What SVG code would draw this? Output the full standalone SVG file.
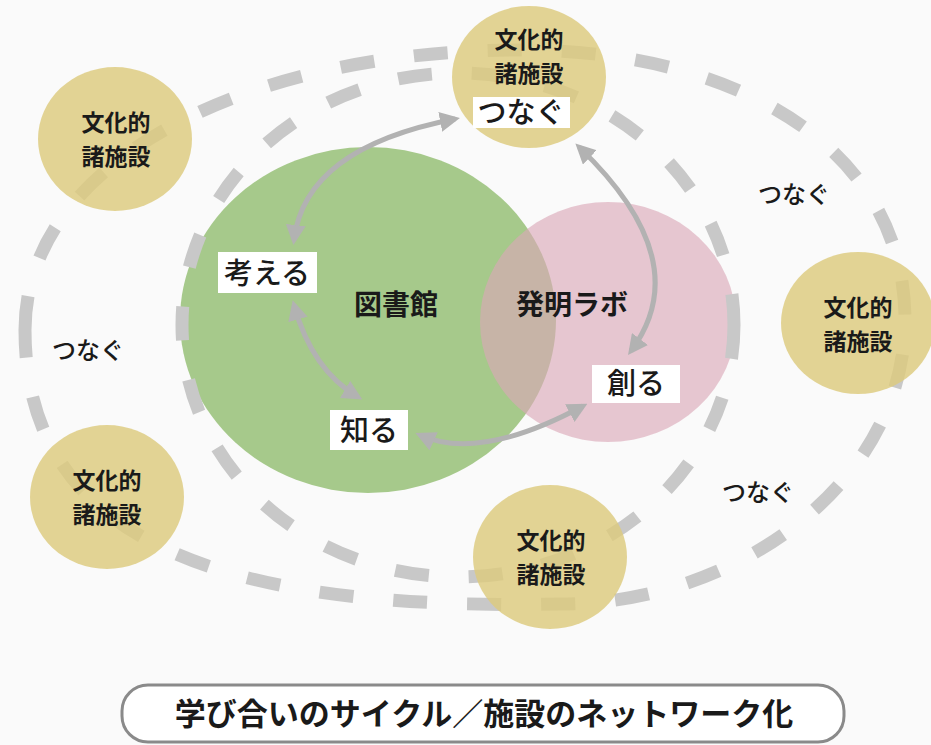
<svg xmlns="http://www.w3.org/2000/svg" width="931" height="745" viewBox="0 0 931 745">
<style>
.jp{font-family:"Noto Sans CJK JP","Noto Sans CJK SC",sans-serif;fill:#1a1a1a;text-anchor:middle}
.fac{font-size:23px;font-weight:700}
.lbl{font-size:29px;font-weight:500}
.cap{font-size:28px;font-weight:700}
.tn{font-size:24px;font-weight:500}
.ring{fill:none;stroke:#c8c8c8;stroke-width:13;stroke-dasharray:34 40}
.yc{fill:#ddca7e;opacity:0.82}
.box{fill:#ffffff}
.arr{fill:none;stroke:#b2b2b2;stroke-width:5;marker-start:url(#ah);marker-end:url(#ah)}
</style>
<defs>
<marker id="ah" viewBox="0 0 10 10" refX="7.5" refY="5" markerWidth="20" markerHeight="20" markerUnits="userSpaceOnUse" orient="auto-start-reverse">
<path d="M0,0 L10,5 L0,10 z" fill="#b2b2b2"/>
</marker>
</defs>
<rect width="931" height="745" fill="#fafafa"/>
<g id="library"><ellipse cx="368" cy="320" rx="188" ry="173" fill="#a6c98b"/></g>
<g id="lab"><ellipse cx="608" cy="322" rx="128" ry="120" fill="#dba8b8" opacity="0.63"/></g>
<g id="rings">
<path class="ring" d="M25 330 C25 160 250 50 520 50 C740 50 905 150 905 320 C905 480 740 604 560 604 C260 610 25 560 25 330 Z"/>
<ellipse class="ring" cx="458" cy="325" rx="276" ry="252"/>
</g>
<g id="fac-top"><ellipse class="yc" cx="529" cy="77" rx="77" ry="71"/>
<text class="jp fac" x="529" y="48">文化的</text><text class="jp fac" x="529" y="82">諸施設</text></g>
<g id="fac-topleft"><ellipse class="yc" cx="115" cy="139" rx="77" ry="72"/>
<text class="jp fac" x="116" y="131">文化的</text><text class="jp fac" x="116" y="165">諸施設</text></g>
<g id="fac-right"><ellipse class="yc" cx="858" cy="323" rx="77" ry="71"/>
<text class="jp fac" x="858" y="316">文化的</text><text class="jp fac" x="858" y="350">諸施設</text></g>
<g id="fac-bottomleft"><ellipse class="yc" cx="107" cy="497" rx="77" ry="72"/>
<text class="jp fac" x="107" y="489">文化的</text><text class="jp fac" x="107" y="523">諸施設</text></g>
<g id="fac-bottom"><ellipse class="yc" cx="550" cy="557" rx="77" ry="72"/>
<text class="jp fac" x="551" y="549">文化的</text><text class="jp fac" x="551" y="583">諸施設</text></g>
<g id="connectors">
<path class="arr" d="M294 240 Q305 148 455 119"/>
<path class="arr" d="M294 305 Q312 370 358 397"/>
<path class="arr" d="M420 435 Q479 462 583 406"/>
<path class="arr" d="M579 147 Q698 261 631 351"/>
</g>
<g id="library-label"><text class="jp cap" x="396" y="315">図書館</text></g>
<g id="lab-label"><text class="jp cap" x="572" y="315">発明ラボ</text></g>
<g id="think"><rect class="box" x="218" y="252" width="99" height="41"/><text class="jp lbl" x="267" y="284">考える</text></g>
<g id="create"><rect class="box" x="592" y="365" width="88" height="38"/><text class="jp lbl" x="636" y="394">創る</text></g>
<g id="know"><rect class="box" x="330" y="410" width="78" height="40"/><text class="jp lbl" x="369" y="441">知る</text></g>
<g id="connect-top"><rect class="box" x="473" y="97" width="97" height="31"/><text class="jp lbl" x="521" y="123">つなぐ</text></g>
<g id="connect-ur"><text class="jp tn" x="794" y="203">つなぐ</text></g>
<g id="connect-left"><text class="jp tn" x="88" y="359">つなぐ</text></g>
<g id="connect-lr"><text class="jp tn" x="758" y="501">つなぐ</text></g>
<g id="title"><rect x="122" y="685" width="722" height="57" rx="26" fill="#ffffff" stroke="#8a8a8a" stroke-width="3"/>
<text class="jp" x="484" y="725" style="font-size:31px;font-weight:700">学び合いのサイクル／施設のネットワーク化</text></g>
</svg>
